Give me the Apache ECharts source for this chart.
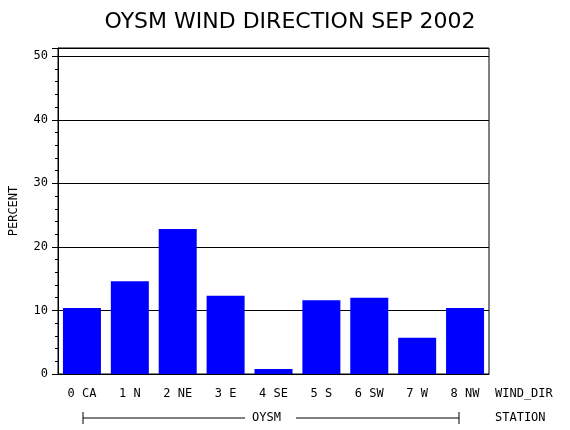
<!DOCTYPE html>
<html><head><meta charset="utf-8">
<script src="https://cdn.jsdelivr.net/npm/echarts@6/dist/echarts.min.js"></script>
<style>html,body{margin:0;padding:0;background:#fff}#c{width:570px;height:430px}</style>
</head><body><div id="c"></div>
<script>
const categories = ['0 CA','1 N','2 NE','3 E','4 SE','5 S','6 SW','7 W','8 NW'];
const percent = [10.4, 14.6, 22.8, 12.3, 0.8, 11.6, 12.0, 5.7, 10.4];
const yTicks = [0,10,20,30,40,50];
const chart = echarts.init(document.getElementById('c'));
const F = 'DejaVu Sans Mono';
chart.setOption({
  animation:false,
  title:{text:'OYSM WIND DIRECTION SEP 2002',left:285,textAlign:'center',top:6,
    textStyle:{fontFamily:'DejaVu Sans',fontWeight:'normal',fontSize:22,color:'#000'}},
  grid:{left:58,right:81,top:48,bottom:56,show:true,borderColor:'#000',borderWidth:1},
  xAxis:{type:'category',data:categories,
    axisLine:{lineStyle:{color:'#000'}},axisTick:{show:false},
    axisLabel:{color:'#000',fontFamily:F,fontSize:12,margin:14}},
  yAxis:{type:'value',min:0,max:51.3,interval:10,
    name:'PERCENT',nameLocation:'middle',nameGap:38,nameRotate:90,
    nameTextStyle:{fontFamily:F,fontSize:12,color:'#000'},
    axisLine:{show:true,lineStyle:{color:'#000'}},
    axisTick:{show:true,length:6,lineStyle:{color:'#000'}},
    minorTick:{show:true,splitNumber:5,length:3,lineStyle:{color:'#000'}},
    splitLine:{lineStyle:{color:'#000'}},
    axisLabel:{color:'#000',fontFamily:F,fontSize:12,margin:10,showMaxLabel:false,
      formatter:v=>yTicks.includes(v)?String(v):''}},
  series:[{type:'bar',data:percent,barWidth:38,itemStyle:{color:'#0000ff'}}],
  graphic:[
    {type:'text',left:495,top:388,style:{text:'WIND_DIR',font:'12px "DejaVu Sans Mono"',fill:'#000'}},
    {type:'text',left:495,top:412,style:{text:'STATION',font:'12px "DejaVu Sans Mono"',fill:'#000'}},
    {type:'line',shape:{x1:83,y1:418,x2:245,y2:418},style:{stroke:'#000'}},
    {type:'line',shape:{x1:296,y1:418,x2:459,y2:418},style:{stroke:'#000'}},
    {type:'line',shape:{x1:83,y1:412,x2:83,y2:424},style:{stroke:'#000'}},
    {type:'line',shape:{x1:459,y1:412,x2:459,y2:424},style:{stroke:'#000'}},
    {type:'text',left:252,top:412,style:{text:'OYSM',font:'12px "DejaVu Sans Mono"',fill:'#000'}}
  ]
});
</script></body></html>
